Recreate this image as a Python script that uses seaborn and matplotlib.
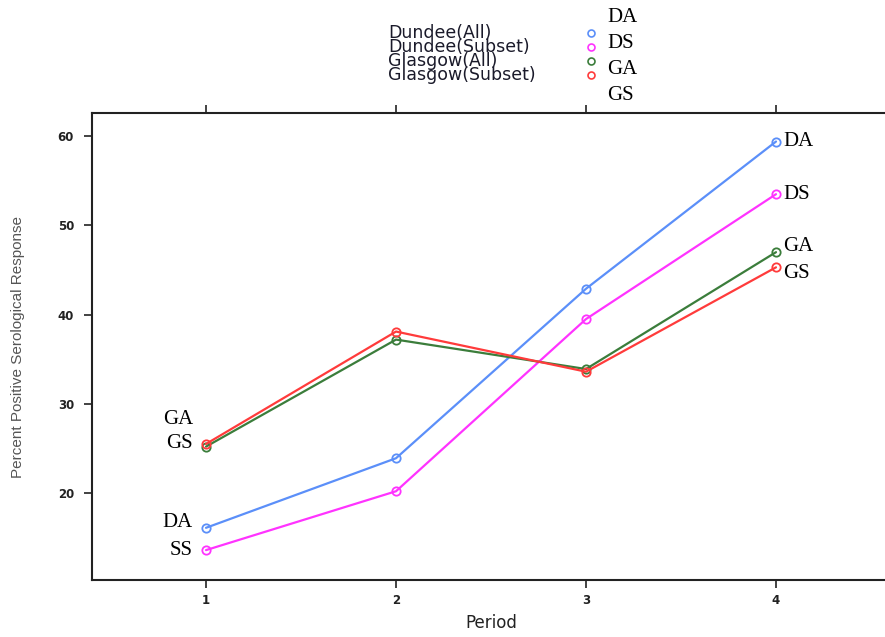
import pandas as pd
import matplotlib.pyplot as plt
import seaborn as sns
from matplotlib.lines import Line2D

periods = [1, 2, 3, 4]
dundee_all = [16.1, 23.9, 42.9, 59.4]
dundee_subset = [13.6, 20.2, 39.5, 53.5]
glasgow_all = [25.2, 37.2, 33.9, 47.0]
glasgow_subset = [25.5, 38.1, 33.6, 45.3]

series_names = ['Dundee(All)', 'Dundee(Subset)', 'Glasgow(All)', 'Glasgow(Subset)']
short_names = ['DA', 'DS', 'GA', 'GS']
left_tags = ['DA', 'SS', 'GA', 'GS']
colors = ['#5b8ff9', '#ff33ff', '#3b7d3b', '#ff3b3b']


def build_frame():
    rows = []
    for name, vals in zip(series_names, [dundee_all, dundee_subset, glasgow_all, glasgow_subset]):
        for p, v in zip(periods, vals):
            rows.append({'Period': p, 'Response': v, 'Group': name})
    return pd.DataFrame(rows)


def plot_serology():
    df = build_frame()

    sns.set_style("ticks")
    plt.rcParams['font.family'] = ['DejaVu Sans']

    fig = plt.figure(figsize=(8.85, 6.37), dpi=100)
    ax = fig.add_axes([92 / 885, 57 / 637, 798 / 885, 467 / 637])

    sns.lineplot(data=df, x='Period', y='Response', hue='Group', hue_order=series_names,
                 palette=colors, ax=ax, linewidth=1.6, marker='o', markersize=6,
                 markerfacecolor='none', markeredgewidth=1.3, legend=False)
    for line, c in zip(ax.lines, colors):
        line.set_markeredgecolor(c)

    ax.set_xlim(0.4, 4.6)
    ax.set_ylim(10.25, 62.6)
    ax.set_xticks(periods)
    ax.set_yticks([20, 30, 40, 50, 60])
    ax.tick_params(axis='both', labelsize=8.5, width=1.2, length=6, colors='#222222')
    ax.tick_params(axis='y', pad=7)
    ax.tick_params(axis='x', pad=4, top=True, labeltop=False)
    for lab in ax.get_xticklabels() + ax.get_yticklabels():
        lab.set_fontweight('bold')
    for sp in ax.spines.values():
        sp.set_visible(True)
        sp.set_linewidth(1.5)
        sp.set_color('#222222')

    ax.set_xlabel('Period', fontsize=12, labelpad=5, color='#222222')
    ax.set_ylabel('Percent Positive Serological Response', fontsize=11,
                  family=['Liberation Sans', 'DejaVu Sans'], color='#555555')
    ax.yaxis.set_label_coords(-(92 - 25) / 798, 0.5)

    serif = ['Liberation Serif', 'DejaVu Serif']
    # end-of-line labels
    vals_all = [dundee_all, dundee_subset, glasgow_all, glasgow_subset]
    right_dy = [0, 0, 6, -6]
    left_dy = [5, 0, 27, 0]
    for vals, nm, lt, rdy, ldy in zip(vals_all, short_names, left_tags, right_dy, left_dy):
        ax.annotate(nm, (periods[-1], vals[-1]), xytext=(7, rdy), textcoords='offset pixels',
                    ha='left', va='center', fontsize=15, family=serif, color='black')
        ax.annotate(lt, (periods[0], vals[0]), xytext=(-13, ldy), textcoords='offset pixels',
                    ha='right', va='center', fontsize=15, family=serif, color='black')

    # key at top
    for i, (nm, c) in enumerate(zip(series_names, colors)):
        y = 1 - (33 + 14 * i) / 637
        fig.text(388 / 885, y, nm, fontsize=12.5, ha='left', va='center', color='#1a1a2a')
        fig.add_artist(Line2D([591 / 885], [y], marker='o', markersize=5, markerfacecolor='none',
                              markeredgecolor=c, markeredgewidth=1.2, transform=fig.transFigure))
    for i, nm in enumerate(short_names):
        fig.text(607 / 885, 1 - (17 + 26.3 * i) / 637, nm, fontsize=15, family=serif,
                 ha='left', va='center', color='black')

    plt.savefig('out.png', dpi=100)


if __name__ == "__main__":
    plot_serology()
